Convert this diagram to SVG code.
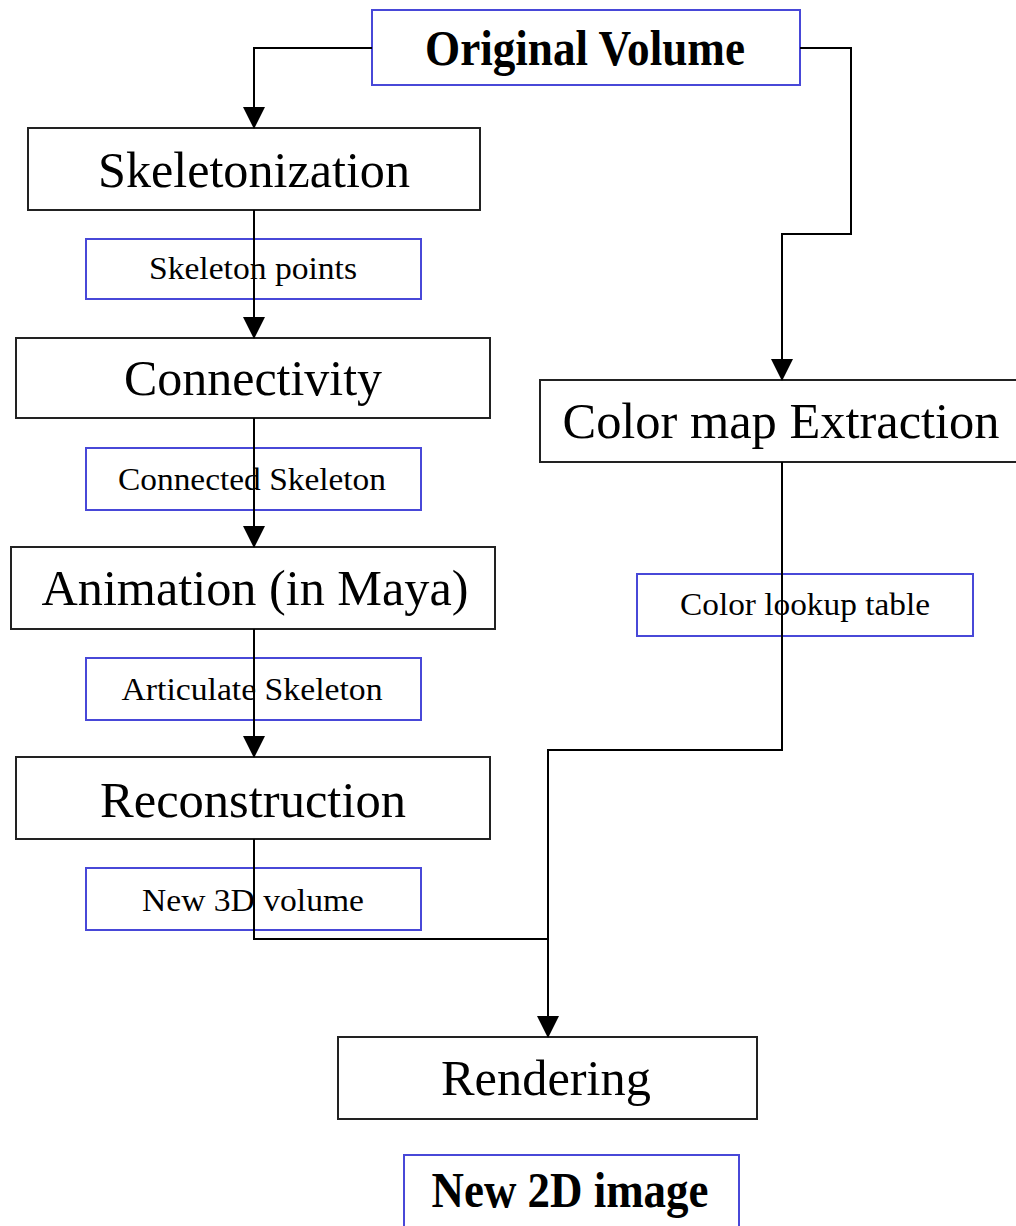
<svg xmlns="http://www.w3.org/2000/svg" width="1016" height="1226" viewBox="0 0 1016 1226">
<defs>
<style>
.box{fill:#fff;stroke:#222;stroke-width:2}
.lbl{fill:#fff;stroke:#4848d8;stroke-width:2}
.big{font-family:"Liberation Serif","Times New Roman",serif;font-size:51px;fill:#000;text-anchor:middle}
.sm{font-family:"Liberation Serif","Times New Roman",serif;font-size:31px;fill:#000;text-anchor:middle}
.bold{font-weight:bold}
.conn{fill:none;stroke:#000;stroke-width:2}
</style>
<marker id="arr" viewBox="0 0 22 22" refX="21" refY="11" markerWidth="22" markerHeight="22" markerUnits="userSpaceOnUse" orient="auto">
<path d="M0,0 L22,11 L0,22 Z" fill="#000"/>
</marker>
</defs>
<rect width="1016" height="1226" fill="#fff"/>

<g id="n-original">
<rect class="lbl" x="372" y="10" width="428" height="75"/>
<text class="big bold" x="585" y="65" textLength="320" lengthAdjust="spacingAndGlyphs">Original Volume</text>
</g>
<g id="n-skeletonization">
<rect class="box" x="28" y="128" width="452" height="82"/>
<text class="big" x="254" y="187" textLength="312" lengthAdjust="spacingAndGlyphs">Skeletonization</text>
</g>
<g id="n-colormap">
<rect class="box" x="540" y="380" width="490" height="82"/>
<text class="big" x="781" y="438" textLength="437" lengthAdjust="spacingAndGlyphs">Color map Extraction</text>
</g>
<g id="n-connectivity">
<rect class="box" x="16" y="338" width="474" height="80"/>
<text class="big" x="253" y="395" textLength="258" lengthAdjust="spacingAndGlyphs">Connectivity</text>
</g>
<g id="n-animation">
<rect class="box" x="11" y="547" width="484" height="82"/>
<text class="big" x="255" y="605" textLength="427" lengthAdjust="spacingAndGlyphs">Animation (in Maya)</text>
</g>
<g id="n-reconstruction">
<rect class="box" x="16" y="757" width="474" height="82"/>
<text class="big" x="253" y="817" textLength="306" lengthAdjust="spacingAndGlyphs">Reconstruction</text>
</g>
<g id="n-rendering">
<rect class="box" x="338" y="1037" width="419" height="82"/>
<text class="big" x="546" y="1095" textLength="210" lengthAdjust="spacingAndGlyphs">Rendering</text>
</g>

<g id="l-skeleton-points">
<rect class="lbl" x="86" y="239" width="335" height="60"/>
</g>
<g id="l-connected-skeleton">
<rect class="lbl" x="86" y="448" width="335" height="62"/>
</g>
<g id="l-articulate-skeleton">
<rect class="lbl" x="86" y="658" width="335" height="62"/>
</g>
<g id="l-new-3d">
<rect class="lbl" x="86" y="868" width="335" height="62"/>
</g>
<g id="l-color-lookup">
<rect class="lbl" x="637" y="574" width="336" height="62"/>
</g>
<g id="l-new-2d">
<rect class="lbl" x="404" y="1155" width="335" height="90"/>
<text class="big bold" x="570" y="1207" font-size="42" textLength="277" lengthAdjust="spacingAndGlyphs">New 2D image</text>
</g>

<g id="connectors">
<path class="conn" d="M372,48 H254 V128" marker-end="url(#arr)"/>
<path class="conn" d="M800,48 H851 V234 H782 V380" marker-end="url(#arr)"/>
<path class="conn" d="M254,210 V338" marker-end="url(#arr)"/>
<path class="conn" d="M254,418 V547" marker-end="url(#arr)"/>
<path class="conn" d="M254,629 V757" marker-end="url(#arr)"/>
<path class="conn" d="M254,839 V939 H548"/>
<path class="conn" d="M782,462 V750 H548 V1037" marker-end="url(#arr)"/>
</g>

<g id="label-texts">
<text class="sm" x="253" y="279" textLength="208" lengthAdjust="spacingAndGlyphs">Skeleton points</text>
<text class="sm" x="252" y="490" textLength="268" lengthAdjust="spacingAndGlyphs">Connected Skeleton</text>
<text class="sm" x="252" y="700" textLength="261" lengthAdjust="spacingAndGlyphs">Articulate Skeleton</text>
<text class="sm" x="253" y="911" textLength="222" lengthAdjust="spacingAndGlyphs">New 3D volume</text>
<text class="sm" x="805" y="615" textLength="250" lengthAdjust="spacingAndGlyphs">Color lookup table</text>
</g>
</svg>
